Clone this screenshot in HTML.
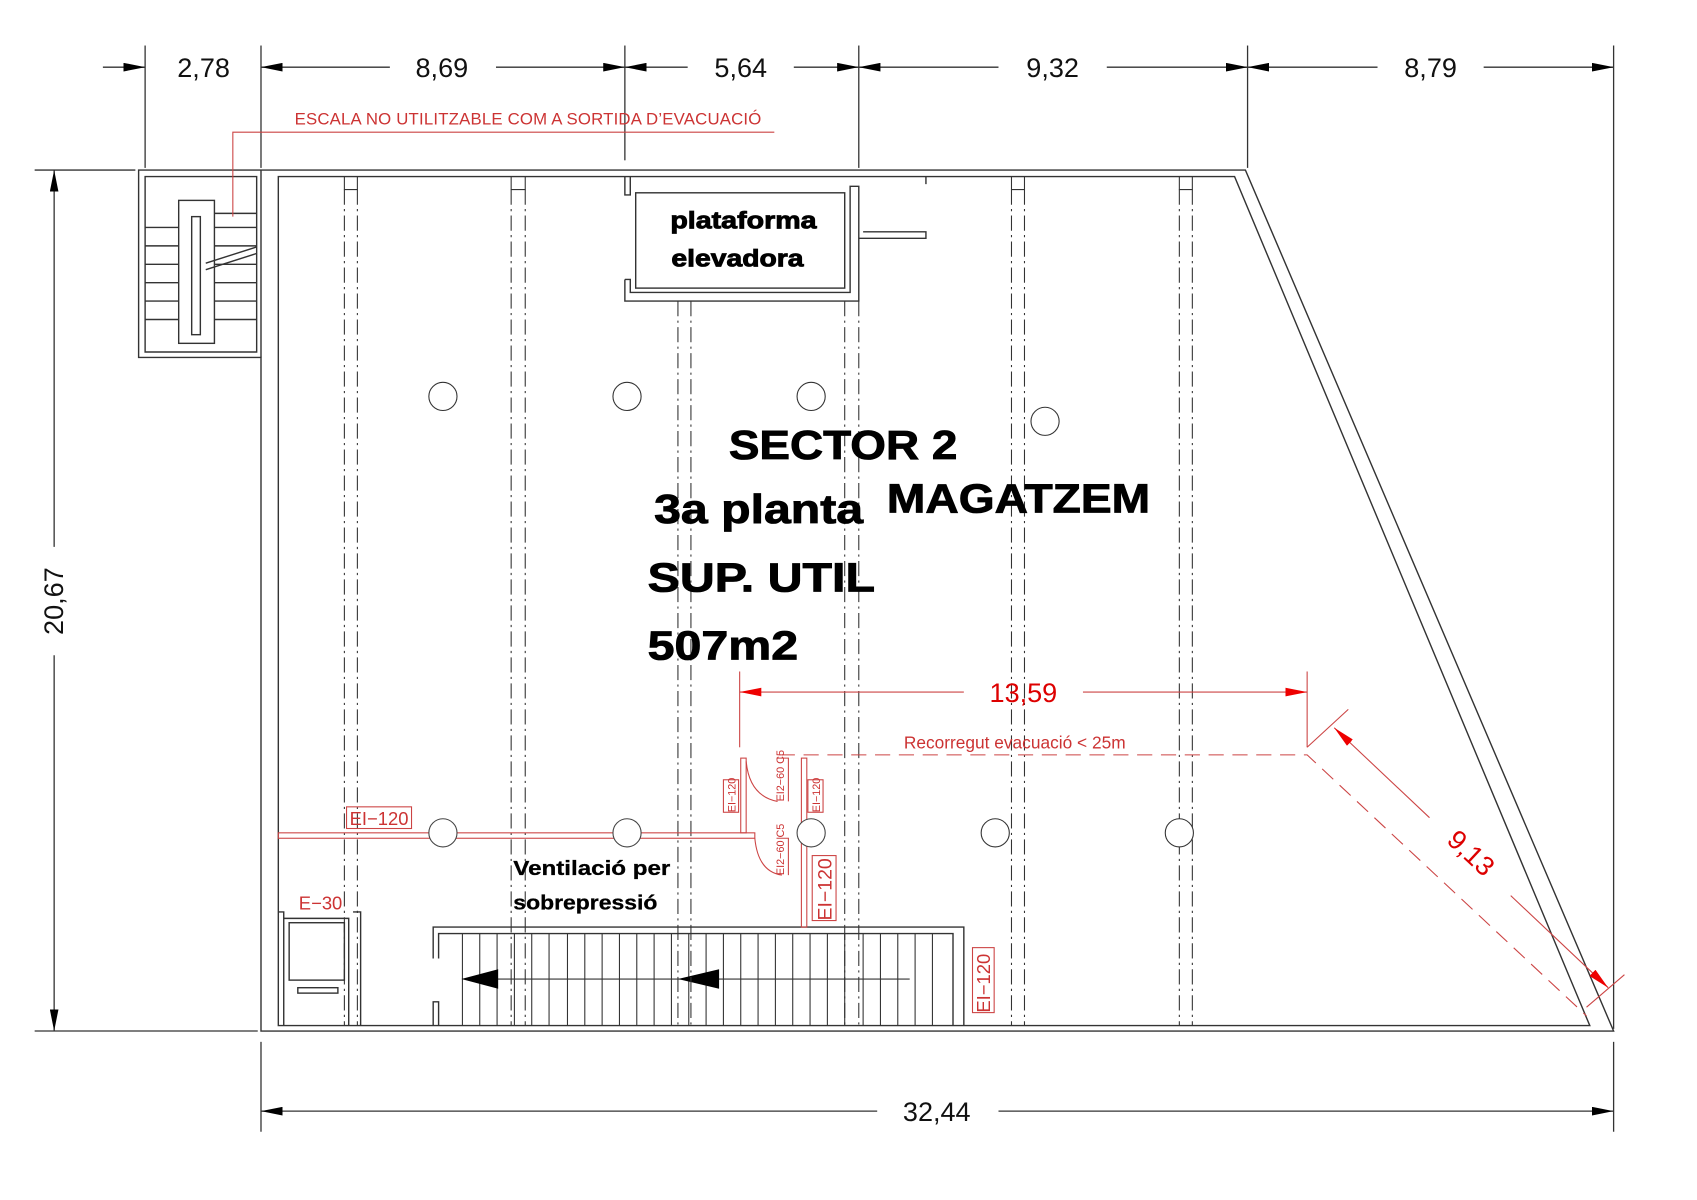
<!DOCTYPE html>
<html><head><meta charset="utf-8"><style>
html,body{margin:0;padding:0;background:#fff;}
svg{display:block;}
text{font-family:"Liberation Sans",sans-serif;}
</style></head><body>
<svg width="1697" height="1200" viewBox="0 0 1567 1108" xmlns="http://www.w3.org/2000/svg">
<defs>
<marker id="ab" viewBox="0 0 10 4" refX="10" refY="2" markerWidth="20" markerHeight="8" markerUnits="userSpaceOnUse" orient="auto-start-reverse"><path d="M0,0L10,2L0,4z" fill="#000"/></marker>
<marker id="ar" viewBox="0 0 10 4" refX="10" refY="2" markerWidth="20" markerHeight="8" markerUnits="userSpaceOnUse" orient="auto-start-reverse"><path d="M0,0L10,2L0,4z" fill="#e00"/></marker>
</defs>
<g stroke="#333" stroke-width="1.2" fill="none">
<line x1="95" y1="62" x2="134" y2="62" marker-end="url(#ab)"/>
<line x1="241" y1="62" x2="360" y2="62" marker-start="url(#ab)"/>
<line x1="458" y1="62" x2="577" y2="62" marker-end="url(#ab)"/>
<line x1="577" y1="62" x2="635" y2="62" marker-start="url(#ab)"/>
<line x1="733" y1="62" x2="793" y2="62" marker-end="url(#ab)"/>
<line x1="793" y1="62" x2="922" y2="62" marker-start="url(#ab)"/>
<line x1="1022" y1="62" x2="1152" y2="62" marker-end="url(#ab)"/>
<line x1="1152" y1="62" x2="1272" y2="62" marker-start="url(#ab)"/>
<line x1="1370" y1="62" x2="1490" y2="62" marker-end="url(#ab)"/>
<line x1="134" y1="42" x2="134" y2="155"/>
<line x1="241" y1="42" x2="241" y2="155"/>
<line x1="577" y1="42" x2="577" y2="148"/>
<line x1="793" y1="42" x2="793" y2="155"/>
<line x1="1152" y1="42" x2="1152" y2="155"/>
<line x1="1490" y1="42" x2="1490" y2="950"/>
<line x1="32" y1="157" x2="125" y2="157"/>
<line x1="32" y1="952" x2="238" y2="952"/>
<line x1="50" y1="157" x2="50" y2="505" marker-start="url(#ab)"/>
<line x1="50" y1="605" x2="50" y2="952" marker-end="url(#ab)"/>
<line x1="241" y1="962" x2="241" y2="1045"/>
<line x1="1490" y1="962" x2="1490" y2="1045"/>
<line x1="241" y1="1026" x2="810" y2="1026" marker-start="url(#ab)"/>
<line x1="922" y1="1026" x2="1490" y2="1026" marker-end="url(#ab)"/>
</g>
<g font-size="25" fill="#111" text-anchor="middle">
<text x="188" y="71">2,78</text><text x="408" y="71">8,69</text><text x="684" y="71">5,64</text>
<text x="972" y="71">9,32</text><text x="1321" y="71">8,79</text><text x="865" y="1035">32,44</text>
<text transform="translate(58,555) rotate(-90)">20,67</text>
</g>
<g stroke="#333" stroke-width="1.3" fill="none">
<path d="M128,157 H1150 L1490,952 H241 V330 H128 Z"/>
<path d="M257,163 H1140 L1468,947 H257 Z"/>
<path d="M134,163 H237 V325 H134 Z"/>
<line x1="241" y1="157" x2="241" y2="330"/>
<rect x="165" y="185" width="33" height="132"/>
<rect x="177" y="200" width="8" height="109"/>
<path d="M134,210H165 M134,227H165 M134,244H165 M134,261H165 M134,278H165 M134,295H165 M198,210H237 M198,227H237 M198,244H237 M198,261H237 M198,278H237 M198,295H237"/>
<line x1="198" y1="197" x2="237" y2="197"/>
<line x1="190" y1="243" x2="237" y2="228"/><line x1="190" y1="249" x2="237" y2="234"/>
<rect x="587" y="178" width="193" height="88"/>
<path d="M577,163 V180 H582 V163 M577,258 V278 H793 V172 H785 V270 H582 V258 H577"/>
<path d="M793,220 H855 V214 H797"/>
<line x1="855" y1="163" x2="855" y2="170"/>
<path d="M257,842 H262 V947 M262,848 H322 V947 M326,842 H333 V947"/>
<rect x="267" y="852" width="51" height="53"/>
<rect x="275" y="912" width="37" height="5"/>
<path d="M400,947 V925 H405 V947 M400,885 V856 H890 V947 M405,885 V862 H880 V947"/>
</g>
<g stroke="#333" stroke-width="1">
<path d="M427,862V947 M443,862V947 M459,862V947 M475,862V947 M491,862V947 M507,862V947 M524,862V947 M540,862V947 M556,862V947 M572,862V947 M588,862V947 M604,862V947 M620,862V947 M636,862V947 M652,862V947 M668,862V947 M684,862V947 M700,862V947 M716,862V947 M732,862V947 M748,862V947 M764,862V947 M780,862V947 M797,862V947 M813,862V947 M829,862V947 M845,862V947 M861,862V947"/>
<line x1="430" y1="904" x2="840" y2="904"/>
</g>
<path d="M426,904 L460,895 L460,913Z M626,904 L664,895 L664,913Z" fill="#000"/>
<g stroke="#333" stroke-width="1" stroke-dasharray="14,4,2,4">
<path d="M318,175V947 M330,175V947 M472,175V947 M485,175V947 M626,278V947 M638,278V947 M780,278V947 M793,278V947 M934,175V947 M946,175V947 M1089,175V947 M1101,175V947"/>
</g>
<g stroke="#333" stroke-width="1" fill="none">
<path d="M318,163V175H330V163 M472,163V175H485V163 M934,163V175H946V163 M1089,163V175H1101V163"/>
<circle cx="409" cy="366" r="13" fill="#fff"/><circle cx="579" cy="366" r="13" fill="#fff"/>
<circle cx="749" cy="366" r="13" fill="#fff"/><circle cx="965" cy="389" r="13" fill="#fff"/>
<circle cx="919" cy="769" r="13" fill="#fff"/><circle cx="1089" cy="769" r="13" fill="#fff"/>
</g>
<g stroke="#c44" stroke-width="1" fill="none">
<path d="M215,200 V122 H715"/>
<rect x="257" y="769" width="440" height="5"/>
<rect x="684" y="700" width="5" height="69"/>
<rect x="740" y="700" width="5" height="156"/>
<path d="M689,703 Q692,735 718,740 M697,774 Q700,805 722,808"/>
<path d="M717,700 H728 V740 M717,774 H728 V808"/>
<rect x="320" y="745" width="60" height="20"/>
<rect x="750" y="790" width="22" height="60"/>
<rect x="898" y="875" width="20" height="60"/>
<rect x="668" y="720" width="14" height="30"/>
<rect x="746" y="720" width="14" height="30"/>
</g>
<g stroke="#444" stroke-width="1" fill="#fff">
<circle cx="409" cy="769" r="13"/><circle cx="579" cy="769" r="13"/><circle cx="749" cy="769" r="13"/>
</g>
<g stroke="#c44" stroke-width="1" fill="none">
<line x1="683" y1="620" x2="683" y2="690"/>
<line x1="1207" y1="620" x2="1207" y2="690"/>
<line x1="683" y1="639" x2="890" y2="639" marker-start="url(#ar)"/>
<line x1="1000" y1="639" x2="1207" y2="639" marker-end="url(#ar)"/>
<path d="M720,697 H1207 L1465,938" stroke-dasharray="14,8"/>
<line x1="1232" y1="672" x2="1320" y2="755" marker-start="url(#ar)"/>
<line x1="1395" y1="827" x2="1485" y2="912" marker-end="url(#ar)"/>
<line x1="1207" y1="690" x2="1245" y2="655"/>
<line x1="1465" y1="930" x2="1500" y2="900"/>
</g>
<g fill="#c33">
<text x="272" y="115" font-size="15.5" textLength="431">ESCALA NO UTILITZABLE COM A SORTIDA D’EVACUACIÓ</text>
<text x="945" y="648" font-size="25" text-anchor="middle" fill="#d00">13,59</text>
<text x="937" y="691" font-size="16" text-anchor="middle">Recorregut evacuació &lt; 25m</text>
<text x="1358" y="796" font-size="25" text-anchor="middle" fill="#d00" transform="rotate(43 1358 788)">9,13</text>
<text x="350" y="762" font-size="17" text-anchor="middle">EI−120</text>
<text x="296" y="840" font-size="17" text-anchor="middle">E−30</text>
<text font-size="18" transform="translate(768,850) rotate(-90)">EI−120</text>
<text font-size="17" transform="translate(914,935) rotate(-90)">EI−120</text>
<text font-size="10" transform="translate(679,750) rotate(-90)">EI−120</text>
<text font-size="10" transform="translate(757,750) rotate(-90)">EI−120</text>
<text font-size="10" transform="translate(724,740) rotate(-90)">EI2−60 C5</text>
<text font-size="10" transform="translate(724,808) rotate(-90)">EI2−60 C5</text>
</g>
<g font-weight="bold" fill="#000" stroke="#000" stroke-width="0.8">
<text x="619" y="211" font-size="22" textLength="135" lengthAdjust="spacingAndGlyphs">plataforma</text>
<text x="620" y="246" font-size="22" textLength="122" lengthAdjust="spacingAndGlyphs">elevadora</text>
<text x="673" y="424" font-size="38" textLength="211" lengthAdjust="spacingAndGlyphs">SECTOR 2</text>
<text x="604" y="483" font-size="38" textLength="193" lengthAdjust="spacingAndGlyphs">3a planta</text>
<text x="819" y="473" font-size="38" textLength="243" lengthAdjust="spacingAndGlyphs">MAGATZEM</text>
<text x="598" y="546" font-size="38" textLength="210" lengthAdjust="spacingAndGlyphs">SUP. UTIL</text>
<text x="598" y="609" font-size="38" textLength="139" lengthAdjust="spacingAndGlyphs">507m2</text>
<text x="474" y="808" font-size="19" stroke-width="0.3" textLength="145" lengthAdjust="spacingAndGlyphs">Ventilació per</text>
<text x="474" y="840" font-size="19" stroke-width="0.3" textLength="133" lengthAdjust="spacingAndGlyphs">sobrepressió</text>
</g>
</svg>
</body></html>
